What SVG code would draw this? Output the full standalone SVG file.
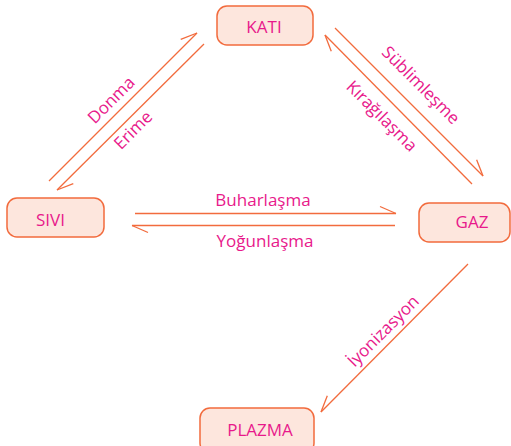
<svg xmlns="http://www.w3.org/2000/svg" width="511" height="446" viewBox="0 0 511 446">
<style>
.box{fill:#fde6dd;stroke:#f26b3d;stroke-width:1.5}
.t{font-family:"Open Sans","Liberation Sans",sans-serif;font-size:17px;fill:#e8198b;text-anchor:middle}
.c{stroke:#f26b3d;stroke-width:1.3;fill:none}
</style>
<defs>
<marker id="hl" markerUnits="userSpaceOnUse" orient="auto" markerWidth="20" markerHeight="20" refX="0" refY="0" overflow="visible"><path d="M0,0 L-16,-7" stroke="#f26b3d" stroke-width="1.3" fill="none"/></marker>
<marker id="hr" markerUnits="userSpaceOnUse" orient="auto" markerWidth="20" markerHeight="20" refX="0" refY="0" overflow="visible"><path d="M0,0 L-16,7" stroke="#f26b3d" stroke-width="1.3" fill="none"/></marker>
</defs>
<rect width="511" height="446" fill="#fff"/>
<g id="connectors">
<line class="c" x1="49" y1="181" x2="197" y2="33" marker-end="url(#hl)"/>
<line class="c" x1="204" y1="44" x2="57" y2="190" marker-end="url(#hl)"/>
<line class="c" x1="335" y1="28" x2="483" y2="176" marker-end="url(#hl)"/>
<line class="c" x1="472" y1="184" x2="325" y2="35" marker-end="url(#hl)"/>
<line class="c" x1="135" y1="213.5" x2="396" y2="213.5" marker-end="url(#hl)"/>
<line class="c" x1="395" y1="225.5" x2="132" y2="225.5" marker-end="url(#hl)"/>
<line class="c" x1="468" y1="264" x2="321" y2="412" marker-end="url(#hr)"/>
<text class="t" transform="translate(111,100) rotate(-45)" y="6">Donma</text>
<text class="t" transform="translate(133,130) rotate(-45)" y="6">Erime</text>
<text class="t" transform="translate(421,85) rotate(45)" y="6">Süblimleşme</text>
<text class="t" transform="translate(382,116) rotate(45)" y="6">Kırağılaşma</text>
<text class="t" x="263" y="206">Buharlaşma</text>
<text class="t" x="265" y="247">Yoğunlaşma</text>
<text class="t" transform="translate(383,331) rotate(-45)" y="6">İyonizasyon</text>
</g>
<g id="kati"><rect class="box" x="217" y="6" width="96" height="39" rx="10"/><text class="t" x="264" y="32.5">KATI</text></g>
<g id="sivi"><rect class="box" x="7" y="198" width="97" height="39" rx="10"/><text class="t" x="50.5" y="226">SIVI</text></g>
<g id="gaz"><rect class="box" x="419" y="203" width="91" height="39" rx="10"/><text class="t" x="472" y="228">GAZ</text></g>
<g id="plazma"><rect class="box" x="200" y="408" width="114" height="45" rx="10"/><text class="t" x="260" y="436">PLAZMA</text></g>
</svg>
